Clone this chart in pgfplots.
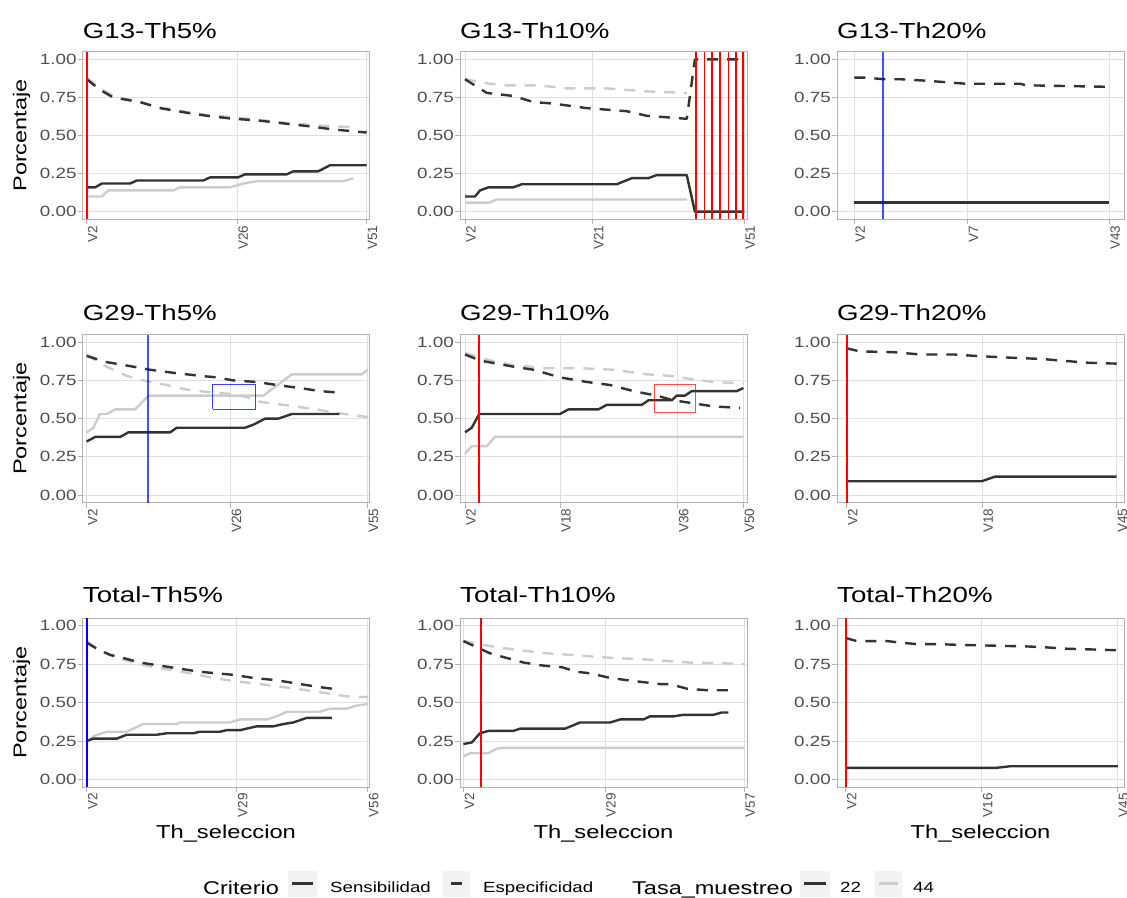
\documentclass[border=0pt]{standalone}
\usepackage{pgfplots}
\pgfplotsset{compat=1.18}
\usepackage{fontspec}
\setmainfont{Liberation Sans}[FakeStretch=1.27]
\newfontfamily\rotfont{Liberation Sans}
\definecolor{g20}{HTML}{333333}
\definecolor{g80}{HTML}{CCCCCC}
\definecolor{g30}{HTML}{4D4D4D}
\definecolor{g70}{HTML}{B3B3B3}
\definecolor{g87}{HTML}{E0E0E0}
\definecolor{g95}{HTML}{F2F2F2}
\definecolor{vr}{HTML}{FF0000}
\definecolor{vb}{HTML}{0000FF}
\pgfplotsset{
  panel/.style={
    scale only axis, width=287pt, anchor=south west,
    ymin=-0.05, ymax=1.05,
    ytick={0,0.25,0.5,0.75,1}, yticklabels={0.00,0.25,0.50,0.75,1.00},
    axis line style={draw=g70, line width=0.8pt},
    tick style={draw=g70, line width=0.8pt},
    tick align=outside, major tick length=5pt, tick pos=left,
    xmajorgrids, ymajorgrids,
    major grid style={draw=g87, line width=0.8pt},
    yticklabel style={font=\fontsize{14.8}{16}\selectfont, text=g30, inner sep=1pt},
    xticklabel style={rotate=90, anchor=north east, font=\rotfont\fontsize{13.5}{14}\selectfont, text=g30, inner sep=1pt},
    /pgf/number format/assume math mode=true,
  },
  s22/.style={g20, line width=2.4pt, line join=round},
  s44/.style={g80, line width=2.4pt, line join=round},
  e22/.style={g20, line width=2.4pt, line join=round, dash pattern=on 11pt off 9pt},
  e44/.style={g80, line width=2.4pt, line join=round, dash pattern=on 11pt off 9pt},
  vred/.style={draw=vr, line width=1.6pt, opacity=1},
  vblue/.style={draw=vb, line width=1.8pt, opacity=0.7},
}
\newcommand\ttl[3]{\node[anchor=base west, inner sep=0, font=\fontsize{21.8}{24}\selectfont] at (#1pt,-#2pt) {#3};}
\begin{document}
\begin{tikzpicture}
\path[use as bounding box] (0,0) rectangle (1127pt,-897pt);

% ---------------- Row 1 ----------------
\begin{axis}[panel, at={(82.7pt,-219.3pt)}, height=167.5pt, xmin=-1.43, xmax=101.07,
  xtick={0,53.8,100}, xticklabels={V2,V26,V51}]
\addplot[e44] coordinates {(0,0.88) (4.8,0.81) (9.5,0.76) (19,0.72) (26.2,0.685) (35.7,0.655) (42.9,0.635) (52.4,0.62) (60.7,0.605) (70.2,0.585) (79.8,0.57) (88.1,0.56) (95.2,0.555)};
\addplot[s44] coordinates {(0,0.10) (5.4,0.10) (7.7,0.14) (31,0.14) (33.3,0.16) (51.2,0.16) (56,0.185) (60.7,0.2) (91.7,0.2) (95.2,0.22)};
\addplot[e22] coordinates {(0,0.87) (4.8,0.80) (9.5,0.75) (19,0.72) (26.2,0.68) (35.7,0.65) (42.9,0.63) (52.4,0.61) (60.7,0.60) (70.2,0.58) (79.8,0.56) (88.1,0.54) (100,0.52)};
\addplot[s22] coordinates {(0,0.16) (3,0.16) (5.4,0.185) (15.5,0.185) (17.9,0.205) (41.7,0.205) (44,0.225) (54,0.225) (56.5,0.245) (71.4,0.245) (73.8,0.265) (82.7,0.265) (86.9,0.305) (100,0.305)};
\addplot[vred] coordinates {(0,-0.05) (0,1.05)};
\end{axis}
\ttl{82.7}{38.3}{G13-Th5\%}

\begin{axis}[panel, at={(460pt,-219.3pt)}, height=167.5pt, xmin=-1.79, xmax=100.96,
  xtick={0,45.7,100}, xticklabels={V2,V21,V51}]
\addplot[e44] coordinates {(0,0.87) (8.9,0.84) (14.9,0.83) (25.7,0.83) (31.6,0.82) (36.4,0.81) (50.7,0.81) (57.9,0.80) (65,0.79) (79.4,0.78)};
\addplot[s44] coordinates {(0,0.06) (8.9,0.06) (11.3,0.08) (79.4,0.08)};
\addplot[e22] coordinates {(0,0.87) (7.8,0.78) (17.3,0.76) (24.5,0.72) (31.6,0.71) (43.6,0.68) (50.7,0.67) (57.9,0.66) (65,0.63) (72.2,0.62) (79.4,0.61) (82.3,1.00) (100,1.00)};
\addplot[s22] coordinates {(0,0.10) (3.6,0.10) (5.4,0.14) (8.4,0.16) (17.3,0.16) (20.3,0.18) (54.3,0.18) (57,0.20) (59.7,0.22) (65.6,0.22) (68.6,0.24) (79.4,0.24) (82.3,0) (100,0)};
\addplot[vred] coordinates {(82.7,-0.05) (82.7,1.05)};
\addplot[vred] coordinates {(85.7,-0.05) (85.7,1.05)};
\addplot[vred] coordinates {(88.5,-0.05) (88.5,1.05)};
\addplot[vred] coordinates {(91.3,-0.05) (91.3,1.05)};
\addplot[vred] coordinates {(94.3,-0.05) (94.3,1.05)};
\addplot[vred] coordinates {(97.0,-0.05) (97.0,1.05)};
\addplot[vred] coordinates {(99.6,-0.05) (99.6,1.05)};
\end{axis}
\ttl{460}{38.3}{G13-Th10\%}

\begin{axis}[panel, at={(837pt,-219.3pt)}, height=167.5pt, xmin=-6.8, xmax=105.8,
  xtick={0,44.4,100}, xticklabels={V2,V7,V43}]
\addplot[e22] coordinates {(0,0.88) (4.8,0.88) (11.4,0.87) (17.9,0.87) (28.4,0.86) (36.2,0.85) (44,0.84) (65,0.84) (67.6,0.83) (100,0.82)};
\addplot[s22] coordinates {(0,0.06) (100,0.06)};
\addplot[vblue] coordinates {(11.1,-0.05) (11.1,1.05)};
\end{axis}
\ttl{837}{38.3}{G13-Th20\%}

% ---------------- Row 2 ----------------
\begin{axis}[panel, at={(82.7pt,-502.6pt)}, height=168pt, xmin=-1.42, xmax=100.7,
  xtick={0,51.2,100}, xticklabels={V2,V26,V55}]
\addplot[e44] coordinates {(0,0.92) (5.9,0.85) (14.2,0.78) (20.2,0.75) (28.5,0.72) (35.6,0.69) (45.1,0.67) (52.2,0.66) (56.9,0.64) (61.7,0.61) (70,0.59) (81.9,0.56) (87.8,0.54) (100,0.51)};
\addplot[s44] coordinates {(0,0.41) (2.4,0.44) (4.7,0.53) (7.1,0.53) (10.1,0.56) (17.2,0.56) (21.4,0.64) (21.9,0.65) (62.9,0.65) (66.4,0.70) (69.4,0.74) (73,0.79) (97.9,0.79) (100,0.82)};
\addplot[e22] coordinates {(0,0.91) (7.1,0.87) (16.6,0.84) (22.5,0.82) (30.8,0.80) (40.3,0.78) (46.3,0.77) (52.2,0.75) (60.5,0.74) (67.6,0.72) (75.9,0.70) (83,0.68) (89.9,0.67)};
\addplot[s22] coordinates {(0,0.35) (3,0.38) (11.9,0.38) (14.8,0.41) (29.7,0.41) (32,0.44) (56.3,0.44) (59.3,0.46) (63.5,0.50) (68.2,0.50) (73,0.53) (89.9,0.53)};
\addplot[vblue] coordinates {(21.9,-0.05) (21.9,1.05)};
\addplot[draw=vb, line width=1pt, opacity=0.75] coordinates {(44.8,0.561) (60,0.561) (60,0.725) (44.8,0.725) (44.8,0.561)};
\end{axis}
\ttl{82.7}{320}{G29-Th5\%}

\begin{axis}[panel, at={(460pt,-502.6pt)}, height=168pt, xmin=-1.8, xmax=101.3,
  xtick={0,34.1,76.4,100}, xticklabels={V2,V18,V36,V50}]
\addplot[e44] coordinates {(0,0.93) (9,0.88) (17.4,0.85) (29.3,0.83) (41.3,0.83) (53.3,0.82) (65.3,0.79) (73.7,0.78) (80.8,0.76) (89.2,0.74) (100,0.73)};
\addplot[s44] coordinates {(0,0.27) (2.4,0.32) (7.8,0.32) (10.8,0.38) (100,0.38)};
\addplot[e22] coordinates {(0,0.92) (5.4,0.88) (17.4,0.84) (24.6,0.82) (34.1,0.77) (43.7,0.74) (52.1,0.72) (60.5,0.68) (68.9,0.65) (74.9,0.62) (82,0.60) (89.2,0.58) (98.8,0.57)};
\addplot[s22] coordinates {(0,0.41) (2.4,0.44) (5.1,0.53) (34.1,0.53) (37.1,0.56) (47.9,0.56) (50.9,0.59) (63.5,0.59) (65.9,0.62) (74.3,0.62) (76,0.65) (79,0.65) (81.4,0.68) (97.6,0.68) (100,0.70)};
\addplot[vred] coordinates {(5.0,-0.05) (5.0,1.05)};
\addplot[draw=vr, line width=1pt, opacity=0.7] coordinates {(67.9,0.542) (82.8,0.542) (82.8,0.725) (67.9,0.725) (67.9,0.542)};
\end{axis}
\ttl{460}{320}{G29-Th10\%}

\begin{axis}[panel, at={(837pt,-502.6pt)}, height=168pt, xmin=-3.6, xmax=102.7,
  xtick={0,50.2,100}, xticklabels={V2,V18,V45}]
\addplot[e22] coordinates {(0,0.96) (4.9,0.94) (17.3,0.935) (27.2,0.92) (39.5,0.92) (48.1,0.91) (59.3,0.90) (72.8,0.89) (79,0.88) (90.1,0.865) (100,0.86)};
\addplot[s22] coordinates {(0,0.09) (50,0.09) (54.9,0.12) (100,0.12)};
\addplot[vred] coordinates {(0,-0.05) (0,1.05)};
\end{axis}
\ttl{837}{320}{G29-Th20\%}

% ---------------- Row 3 ----------------
\begin{axis}[panel, at={(82.7pt,-787pt)}, height=169pt, xmin=-1.42, xmax=100.7,
  xtick={0,53.4,100}, xticklabels={V2,V29,V56}]
\addplot[e44] coordinates {(0,0.90) (3.6,0.85) (9.5,0.80) (16.6,0.76) (23.7,0.73) (30.8,0.71) (36.8,0.69) (45.1,0.66) (52.2,0.64) (61.7,0.62) (70,0.60) (78.3,0.58) (85.4,0.56) (92.5,0.54) (100,0.535)};
\addplot[s44] coordinates {(0,0.24) (2.4,0.28) (7.1,0.31) (14.2,0.31) (17.8,0.34) (20.2,0.36) (32,0.36) (33.2,0.37) (51,0.37) (54.6,0.39) (64.1,0.39) (67.6,0.41) (71.2,0.44) (83,0.44) (86.6,0.46) (92.5,0.46) (96.1,0.48) (100,0.49)};
\addplot[e22] coordinates {(0,0.89) (3.6,0.85) (8.3,0.81) (13,0.79) (19,0.76) (26.1,0.74) (33.2,0.72) (40.3,0.70) (46.3,0.69) (52.2,0.68) (59.3,0.66) (67.6,0.645) (75.9,0.62) (83,0.60) (87.2,0.59)};
\addplot[s22] coordinates {(0,0.25) (2.4,0.265) (10.7,0.265) (14.2,0.29) (24.9,0.29) (28.5,0.30) (38,0.30) (40.3,0.31) (47.4,0.31) (49.8,0.32) (54.6,0.32) (56.9,0.33) (60.5,0.345) (66.4,0.345) (70,0.36) (73.5,0.37) (75.9,0.385) (78.3,0.40) (87.2,0.40)};
\addplot[draw=vb, line width=1.8pt] coordinates {(0,-0.05) (0,1.05)};
\end{axis}
\ttl{82.7}{602.3}{Total-Th5\%}

\begin{axis}[panel, at={(460pt,-787pt)}, height=169pt, xmin=-1.2, xmax=100.9,
  xtick={0,50.4,100}, xticklabels={V2,V29,V57}]
\addplot[e44] coordinates {(0,0.90) (5.9,0.88) (11.9,0.86) (20.2,0.84) (29.7,0.82) (38,0.81) (45.1,0.80) (53.4,0.79) (65.2,0.78) (72.4,0.77) (80.7,0.76) (92.5,0.755) (100,0.75)};
\addplot[s44] coordinates {(0,0.15) (2.4,0.17) (8.9,0.17) (11.9,0.20) (14.2,0.205) (100,0.205)};
\addplot[e22] coordinates {(0,0.90) (4.7,0.86) (9.5,0.82) (15.4,0.79) (21.4,0.76) (28.5,0.74) (35,0.73) (40.3,0.70) (45.1,0.69) (52.2,0.66) (60.5,0.64) (70,0.62) (73.5,0.62) (79.5,0.59) (86.6,0.58) (94.3,0.58)};
\addplot[s22] coordinates {(0,0.23) (3,0.24) (5.9,0.30) (8.9,0.315) (17.8,0.315) (20.2,0.33) (36.2,0.33) (41.5,0.37) (52.2,0.37) (55.8,0.39) (64.1,0.39) (66.4,0.41) (74.7,0.41) (78.3,0.42) (89,0.42) (91.9,0.435) (94.3,0.435)};
\addplot[vred] coordinates {(6.2,-0.05) (6.2,1.05)};
\end{axis}
\ttl{460}{602.3}{Total-Th10\%}

\begin{axis}[panel, at={(837pt,-787pt)}, height=169pt, xmin=-3.2, xmax=102.3,
  xtick={0,50,100}, xticklabels={V2,V16,V45}]
\addplot[e22] coordinates {(0,0.92) (4,0.90) (15.1,0.90) (20,0.89) (26.1,0.88) (33.5,0.88) (42,0.875) (54.3,0.87) (66.5,0.865) (72.7,0.86) (81.3,0.85) (91.1,0.845) (100,0.84)};
\addplot[s22] coordinates {(0,0.075) (55.5,0.075) (60.4,0.085) (100,0.085)};
\addplot[vred] coordinates {(0,-0.05) (0,1.05)};
\end{axis}
\ttl{837}{602.3}{Total-Th20\%}

% ---------------- axis titles ----------------
\foreach \yy in {135.5,418.6,702.5}{
  \node[rotate=90, anchor=center, inner sep=0, font=\fontsize{18.5}{20}\selectfont] at (21.5pt,-\yy pt) {Porcentaje};
}
\foreach \xx in {226,603.5,980.5}{
  \node[anchor=base, inner sep=0, font=\fontsize{18.7}{20}\selectfont] at (\xx pt,-838pt) {Th\_seleccion};
}

% ---------------- legend ----------------
\node[anchor=base west, inner sep=0, font=\fontsize{18.5}{20}\selectfont] at (203pt,-894pt) {Criterio};
\fill[g95] (288pt,-871pt) rectangle (317pt,-897pt);
\draw[g20, line width=2.4pt] (292pt,-883.5pt) -- (313pt,-883.5pt);
\node[anchor=base west, inner sep=0, font=\fontsize{14.7}{16}\selectfont] at (330pt,-892.5pt) {Sensibilidad};
\fill[g95] (443pt,-871pt) rectangle (470pt,-897pt);
\draw[g20, line width=2.4pt] (451pt,-883.5pt) -- (462pt,-883.5pt);
\node[anchor=base west, inner sep=0, font=\fontsize{14.7}{16}\selectfont] at (483pt,-892.5pt) {Especificidad};
\node[anchor=base west, inner sep=0, font=\fontsize{18.5}{20}\selectfont] at (632pt,-894pt) {Tasa\_muestreo};
\fill[g95] (800pt,-871pt) rectangle (830pt,-897pt);
\draw[g20, line width=2.4pt] (804pt,-883.5pt) -- (826pt,-883.5pt);
\node[anchor=base west, inner sep=0, font=\fontsize{14.7}{16}\selectfont] at (840pt,-892.5pt) {22};
\fill[g95] (875pt,-871pt) rectangle (902pt,-897pt);
\draw[g80, line width=2.4pt] (879pt,-883.5pt) -- (898pt,-883.5pt);
\node[anchor=base west, inner sep=0, font=\fontsize{14.7}{16}\selectfont] at (913pt,-892.5pt) {44};
\end{tikzpicture}
\end{document}
